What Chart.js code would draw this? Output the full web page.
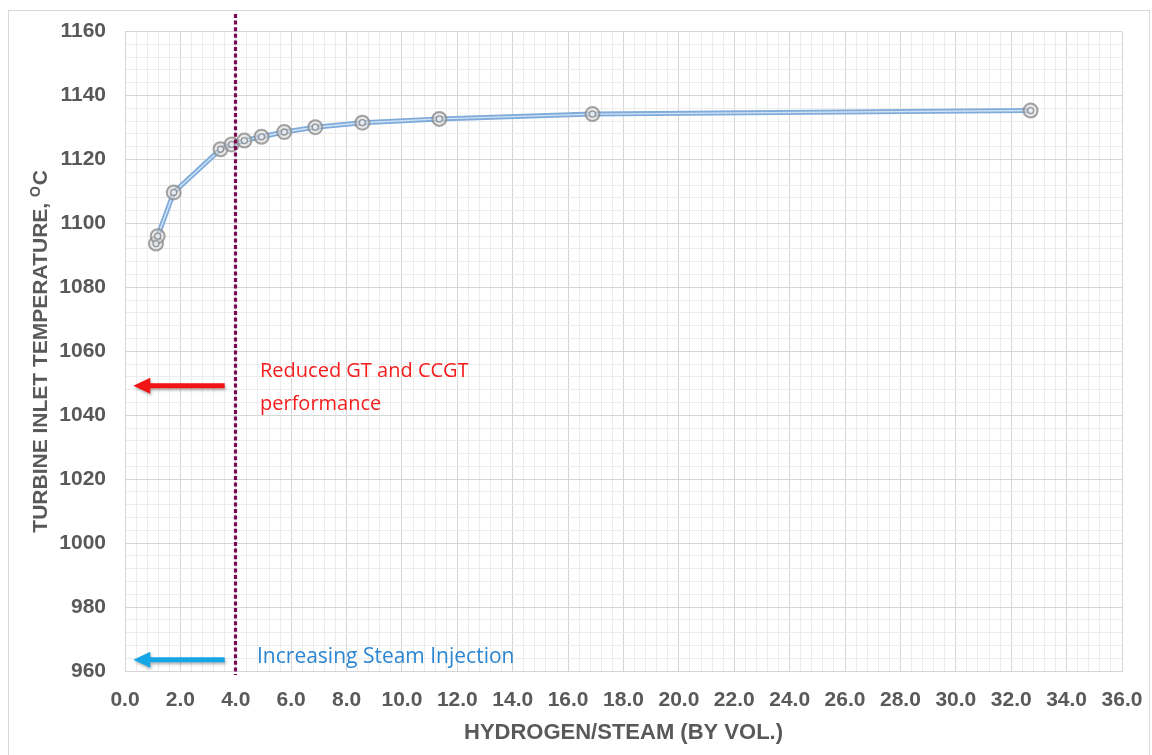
<!DOCTYPE html>
<html>
<head>
<meta charset="utf-8">
<script src="https://cdn.jsdelivr.net/npm/chart.js@4.4.1/dist/chart.umd.min.js"></script>
<style>
  body { margin: 0; background: #fff; }
  #wrap { width: 1152px; height: 755px; }
</style>
</head>
<body>
<div id="wrap"><canvas id="myChart"></canvas></div>
<script>
// hydrogen/steam ratio (by vol.) and turbine inlet temperature (deg C)
var ratio = [1.12, 1.18, 1.76, 3.45, 3.85, 4.31, 4.93, 5.75, 6.87, 8.57, 11.35, 16.88, 32.7];
var temperature = [1093.7, 1096.0, 1109.7, 1123.2, 1124.7, 1125.9, 1127.1, 1128.6, 1130.1, 1131.5, 1132.7, 1134.2, 1135.3];

var xTitle = 'HYDROGEN/STEAM (BY VOL.)';
var yTitle = ['TURBINE INLET TEMPERATURE, ', 'O', 'C'];
var limitRatio = 4.0;   // dotted line
var redNote = ['Reduced GT and CCGT', 'performance'];
var blueNote = 'Increasing Steam Injection';

var points = ratio.map(function (r, i) { return { x: r, y: temperature[i] }; });

function isMajor(v, step) {
  var q = v / step;
  return Math.abs(q - Math.round(q)) < 1e-6;
}

function arrow(ctx, x1, x2, y, color) {
  ctx.save();
  ctx.shadowColor = 'rgba(0,0,0,0.3)';
  ctx.shadowBlur = 3;
  ctx.shadowOffsetX = 1;
  ctx.shadowOffsetY = 2;
  ctx.fillStyle = color;
  ctx.beginPath();
  ctx.moveTo(x1, y - 2.5);
  ctx.lineTo(x2 + 17, y - 2.5);
  ctx.lineTo(x2 + 17, y - 8);
  ctx.lineTo(x2, y);
  ctx.lineTo(x2 + 17, y + 8);
  ctx.lineTo(x2 + 17, y + 2.5);
  ctx.lineTo(x1, y + 2.5);
  ctx.closePath();
  ctx.fill();
  ctx.restore();
}

var extras = {
  id: 'extras',
  beforeDraw: function (chart) {
    var ctx = chart.ctx;
    ctx.save();
    ctx.fillStyle = '#fff';
    ctx.fillRect(0, 0, chart.width, chart.height);
    ctx.strokeStyle = '#d9d9d9';
    ctx.lineWidth = 1;
    ctx.strokeRect(8.5, 10.5, chart.width - 11, chart.height + 20);
    ctx.restore();
  },
  afterDatasetsDraw: function (chart) {
    var ctx = chart.ctx, xs = chart.scales.x, a = chart.chartArea;
    var px = Math.round(xs.getPixelForValue(limitRatio)) - 0.5;
    ctx.save();
    ctx.strokeStyle = '#7b0a55';
    ctx.lineWidth = 3.2;
    ctx.setLineDash([4, 2.6]);
    ctx.beginPath();
    ctx.moveTo(px, 14);
    ctx.lineTo(px, a.bottom + 4);
    ctx.stroke();
    ctx.restore();
  },
  afterDraw: function (chart) {
    var ctx = chart.ctx, xs = chart.scales.x, ys = chart.scales.y, a = chart.chartArea;
    arrow(ctx, xs.getPixelForValue(3.6), xs.getPixelForValue(0.3), ys.getPixelForValue(1049.2), '#f01414');
    arrow(ctx, xs.getPixelForValue(3.6), xs.getPixelForValue(0.3), ys.getPixelForValue(963.5), '#16a6e6');

    ctx.save();
    ctx.textBaseline = 'middle';
    ctx.textAlign = 'left';
    ctx.font = '20px "Open Sans"';
    ctx.fillStyle = '#f51d1d';
    ctx.fillText(redNote[0], 260, 371);
    ctx.fillText(redNote[1], 260, 404);
    ctx.font = '21px "Open Sans"';
    ctx.fillStyle = '#2a86d2';
    ctx.fillText(blueNote, 257, 657);

    ctx.fillStyle = '#595959';
    ctx.font = 'bold 22px "Liberation Sans"';
    ctx.textAlign = 'center';
    ctx.fillText(xTitle, (a.left + a.right) / 2, 733);

    // y title, with raised small "O" before the C
    var big = 'bold 21px "Liberation Sans"', small = 'bold 14px "Liberation Sans"';
    ctx.font = big;
    var w0 = ctx.measureText(yTitle[0]).width, w2 = ctx.measureText(yTitle[2]).width;
    ctx.font = small;
    var w1 = ctx.measureText(yTitle[1]).width;
    var total = w0 + w1 + w2 + 1;
    ctx.translate(40, (a.top + a.bottom) / 2);
    ctx.rotate(-Math.PI / 2);
    ctx.textAlign = 'left';
    ctx.textBaseline = 'alphabetic';
    var sx = -total / 2;
    ctx.font = big;
    ctx.fillText(yTitle[0], sx, 7);
    ctx.font = small;
    ctx.fillText(yTitle[1], sx + w0, 0);
    ctx.font = big;
    ctx.fillText(yTitle[2], sx + w0 + w1 + 1, 7);
    ctx.restore();
  }
};

window.onload = function () {
  var ctx = document.getElementById('myChart');
  var majorGrid = '#d6d6d6', minorGrid = '#ececec';
  var tickFont = { family: 'Liberation Sans', size: 21, weight: 'bold' };

  new Chart(ctx, {
    type: 'line',
    data: {
      datasets: [{
        data: points,
        borderColor: '#80acdb',
        borderWidth: 5,
        pointRadius: 0,
        tension: 0,
        order: 3
      }, {
        data: points,
        borderColor: '#d0e2f5',
        borderWidth: 1.4,
        pointRadius: 0,
        tension: 0,
        order: 2
      }, {
        data: points,
        showLine: false,
        pointRadius: 7,
        pointBorderWidth: 2,
        pointBorderColor: 'rgba(140,140,140,0.8)',
        pointBackgroundColor: 'rgba(215,215,215,0.55)',
        order: 1
      }, {
        data: points,
        showLine: false,
        pointRadius: 3,
        pointBorderWidth: 1.3,
        pointBorderColor: 'rgba(130,130,130,0.8)',
        pointBackgroundColor: 'rgba(235,240,248,0.8)',
        order: 0
      }]
    },
    options: {
      responsive: true,
      maintainAspectRatio: false,
      animation: false,
      layout: { padding: { top: 31, right: 30, left: 0, bottom: 0 } },
      plugins: { legend: { display: false }, tooltip: { enabled: false } },
      scales: {
        x: {
          type: 'linear',
          min: 0,
          max: 36,
          afterFit: function (s) { s.height = 84; s.paddingRight = 0; s.paddingLeft = 0; },
          ticks: {
            stepSize: 0.4,
            autoSkip: false,
            maxRotation: 0,
            padding: 17,
            color: '#595959',
            font: tickFont,
            callback: function (v) { return isMajor(v, 2) ? v.toFixed(1) : ''; }
          },
          grid: {
            drawTicks: false,
            lineWidth: 1,
            color: function (c) { return c.tick && isMajor(c.tick.value, 2) ? majorGrid : minorGrid; }
          },
          border: { color: majorGrid }
        },
        y: {
          min: 960,
          max: 1160,
          afterFit: function (s) { s.width = 125; },
          ticks: {
            stepSize: 4,
            autoSkip: false,
            padding: 19,
            color: '#595959',
            font: tickFont,
            callback: function (v) { return isMajor(v, 20) ? String(Math.round(v)) : ''; }
          },
          grid: {
            drawTicks: false,
            lineWidth: 1,
            color: function (c) { return c.tick && isMajor(c.tick.value, 20) ? majorGrid : minorGrid; }
          },
          border: { color: majorGrid }
        }
      }
    },
    plugins: [extras]
  });
};
</script>
</body>
</html>
